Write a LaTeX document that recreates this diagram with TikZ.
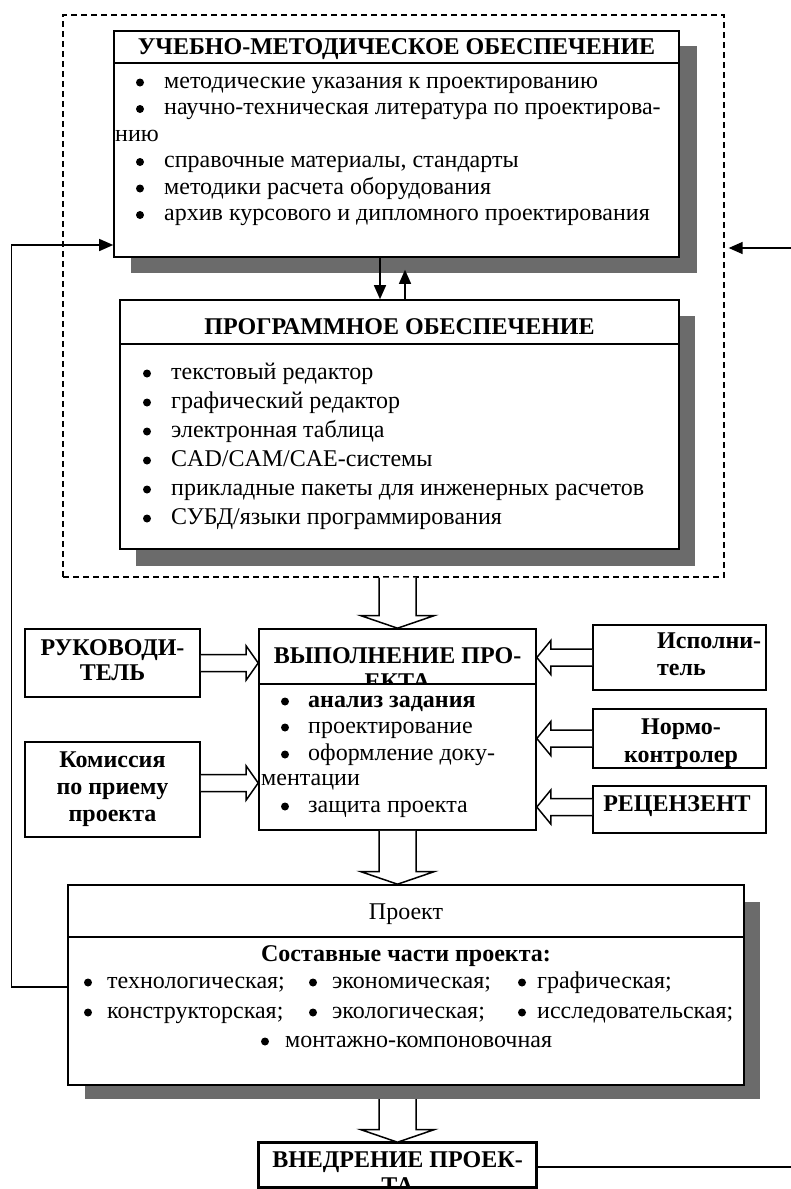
\documentclass[tikz,border=0pt]{standalone}
\usepackage{fontspec}
\setmainfont{Liberation Serif}
\usetikzlibrary{arrows.meta,fit,calc}

\tikzset{
  box/.style={draw, line width=1.6pt, inner sep=0pt, fill=white},
  shadowbox/.style={fill=black!58, inner sep=0pt},
  frame/.style={draw, dash pattern=on 6pt off 4pt, line width=1.3pt, inner sep=0pt},
  lbl/.style={inner sep=0pt, anchor=base west, font=\fontsize{24}{28}\selectfont},
  clbl/.style={inner sep=0pt, anchor=base, font=\fontsize{24}{28}\selectfont},
  bclbl/.style={inner sep=0pt, anchor=base, font=\fontsize{24}{28}\selectfont\bfseries},
  blbl/.style={inner sep=0pt, anchor=base west, font=\fontsize{24}{28}\selectfont\bfseries},
  dot/.style={circle, fill, inner sep=0pt, minimum size=8pt},
  conn/.style={line width=1.4pt},
  tip/.style={-{Triangle[length=14pt,width=12pt]}},
  hollow/.style={draw, line width=1.5pt, fill=white, line join=miter},
}

% wide hollow arrow pointing right: tail point #1, tip x taken from #2
\newcommand\harrowR[2]{%
  \draw[hollow] let \p1=(#1), \p2=(#2) in
    ({\x1},{\y1+8.5pt}) -- ({\x2-12pt},{\y1+8.5pt}) -- ({\x2-12pt},{\y1+17pt}) -- ({\x2},{\y1})
    -- ({\x2-12pt},{\y1-17pt}) -- ({\x2-12pt},{\y1-8.5pt}) -- ({\x1},{\y1-8.5pt});}
% wide hollow arrow pointing left
\newcommand\harrowL[2]{%
  \draw[hollow] let \p1=(#1), \p2=(#2) in
    ({\x1},{\y1+8.5pt}) -- ({\x2+14pt},{\y1+8.5pt}) -- ({\x2+14pt},{\y1+17pt}) -- ({\x2},{\y1})
    -- ({\x2+14pt},{\y1-17pt}) -- ({\x2+14pt},{\y1-8.5pt}) -- ({\x1},{\y1-8.5pt});}
% wide hollow arrow pointing down: tail point #1, tip y taken from #2
\newcommand\varrowD[2]{%
  \draw[hollow] let \p1=(#1), \p2=(#2) in
    ({\x1-18.5pt},{\y1}) -- ({\x1-18.5pt},{\y2+12.5pt}) -- ({\x1-36.5pt},{\y2+12.5pt}) -- ({\x1},{\y2})
    -- ({\x1+36.5pt},{\y2+12.5pt}) -- ({\x1+18.5pt},{\y2+12.5pt}) -- ({\x1+18.5pt},{\y1});}

\begin{document}
\begin{tikzpicture}[x=1pt,y=-1pt]
\useasboundingbox (0,0) rectangle (790,1189);

% dashed enclosure of the support blocks
\node[frame, fit={(63,15)(724,577)}] (fr) {};

% educational support block
\node[shadowbox, fit={(131,46)(697,273)}] (s1) {};
\node[box, fit={(114,63)(679,257)}] (b1) {};
\node[box, fit={(114,31)(679,63)}] (h1) {};
\node[bclbl] (h1t) at (396.5,54) {УЧЕБНО-МЕТОДИЧЕСКОЕ ОБЕСПЕЧЕНИЕ};
\foreach \yy [count=\i] in {88,114.5,167.5,194,220.5}
  \node[dot] (d1\i) at (140,\yy-5.5) {};
\node[lbl] (u11) at (164,88) {методические указания к проектированию};
\node[lbl] (u12) at (164,114.5) {научно-техническая литература по проектирова-};
\node[lbl] (u12b) at (115,141) {нию};
\node[lbl] (u13) at (164,167.5) {справочные материалы, стандарты};
\node[lbl] (u14) at (164,194) {методики расчета оборудования};
\node[lbl] (u15) at (164,220.5) {архив курсового и дипломного проектирования};

% software block
\node[shadowbox, fit={(136,316)(695,566)}] (s2) {};
\node[box, fit={(120,344)(679,549)}] (b2) {};
\node[box, fit={(120,300)(679,344)}] (h2) {};
\node[bclbl] (h2t) at (399.5,334) {ПРОГРАММНОЕ ОБЕСПЕЧЕНИЕ};
\foreach \txt [count=\i] in {текстовый редактор, графический редактор, электронная таблица,
    CAD/CAM/CAE-системы, прикладные пакеты для инженерных расчетов, СУБД/языки программирования} {
  \node[dot] (d2\i) at (147,{373.5+29*(\i-1)}) {};
  \node[lbl] (u2\i) at (171,{379+29*(\i-1)}) {\txt};
}

% links between the two support blocks
\draw[conn,tip] ([xshift=-16.5pt]b1.south) -- ([xshift=-16.5pt]b1.south |- h2.north);
\draw[conn,tip] ([xshift=8.5pt]b1.south |- h2.north) -- ([xshift=8.5pt,yshift=-12pt]b1.south);

% project execution block
\node[box, fit={(259,629)(536,684)}] (vh) {};
\node[bclbl] (vh1) at (397.5,663) {ВЫПОЛНЕНИЕ ПРО-};
\node[bclbl] (vh2) at (397.5,689) {ЕКТА};
\node[box, fit={(259,684)(536,830)}] (vb) {};
\foreach \yy [count=\i] in {707,733,760,812}
  \node[dot] (d3\i) at (285,\yy-5.5) {};
\node[blbl] (u31) at (308,707) {анализ задания};
\node[lbl] (u32) at (308,733) {проектирование};
\node[lbl] (u33) at (308,760) {оформление доку-};
\node[lbl] (u33b) at (261,785) {ментации};
\node[lbl] (u34) at (308,812) {защита проекта};

% participants
\node[box, fit={(25,629)(200,697)}] (ruk) {};
\node[bclbl] (ruk1) at (112.5,655) {РУКОВОДИ-};
\node[bclbl] (ruk2) at (112.5,680) {ТЕЛЬ};
\node[box, fit={(25,742)(200,837)}] (kom) {};
\node[bclbl] (kom1) at (112.5,767) {Комиссия};
\node[bclbl] (kom2) at (112.5,794) {по приему};
\node[bclbl] (kom3) at (112.5,821) {проекта};
\node[box, fit={(593,625)(766,690)}] (isp) {};
\node[blbl] (isp1) at (657,648) {Исполни-};
\node[blbl] (isp2) at (657,675) {тель};
\node[box, fit={(593,709)(766,768)}] (norm) {};
\node[bclbl] (norm1) at (681,734) {Нормо-};
\node[bclbl] (norm2) at (681,762) {контролер};
\node[box, fit={(593,786)(766,833)}] (rec) {};
\node[bclbl] (rec1) at (677,811) {РЕЦЕНЗЕНТ};

% project block
\node[shadowbox, fit={(85,902)(760,1099)}] (s3) {};
\node[box, fit={(68,937)(744,1085)}] (pb) {};
\node[box, fit={(68,885)(744,937)}] (ph) {};
\node[clbl] (pht) at (406,919) {Проект};
\node[bclbl] (pbt) at (406,961) {Составные части проекта:};
\foreach \xb/\xt/\txt [count=\i] in {88/107/технологическая;, 313/332/экономическая;, 522/537/графическая;} {
  \node[dot] (e1\i) at (\xb,982.5) {};
  \node[lbl] (p1\i) at (\xt,988) {\txt};
}
\foreach \xb/\xt/\txt [count=\i] in {88/107/конструкторская;, 313/332/экологическая;, 522/537/исследовательская;} {
  \node[dot] (e2\i) at (\xb,1012.5) {};
  \node[lbl] (p2\i) at (\xt,1018) {\txt};
}
\node[dot] (e31) at (265,1041.5) {};
\node[lbl] (p31) at (285,1047) {монтажно-компоновочная};

% implementation block
\node[box, fit={(259,1143)(536,1187)}] (vn) {};
\begin{scope}
  \clip (259,1143) rectangle (536,1187);
  \node[bclbl] (vn1) at (397.5,1167) {ВНЕДРЕНИЕ ПРОЕК-};
  \node[bclbl] (vn2) at (397.5,1193) {ТА};
\end{scope}
\draw[line width=1.6pt] (vn.south west) rectangle (vn.north east);

% wide flow arrows
\varrowD{vh.north |- fr.south}{vh.north}
\varrowD{vb.south}{ph.north}
\varrowD{s3.south -| vn.north}{vn.north}
\harrowR{ruk.east}{vh.west}
\harrowR{[yshift=6.5pt]kom.east}{vb.west}
\harrowL{isp.west}{vh.east}
\harrowL{norm.west}{vb.east}
\harrowL{[yshift=2.5pt]rec.west}{vb.east}

% feedback loops
\draw[conn,tip] ([yshift=24pt]pb.west) -- ++(-56,0) |- ([yshift=-85pt]b1.west);
\draw[conn,tip] ([yshift=-2pt]vn.east) -- (791.5,1167) |- ([xshift=4pt,yshift=48pt]fr.east);
\end{tikzpicture}
\end{document}
